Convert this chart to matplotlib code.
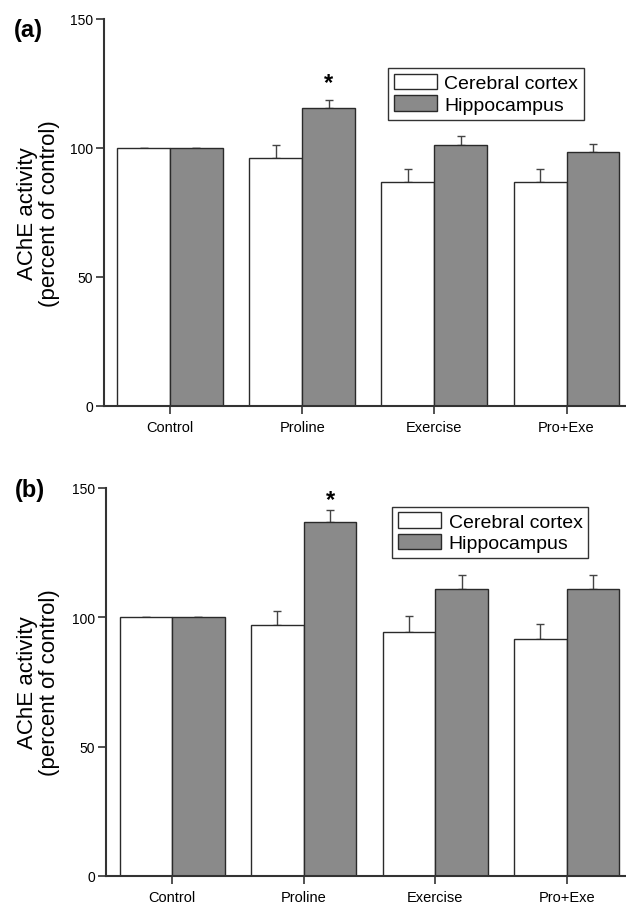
import numpy as np
import matplotlib.pyplot as plt

GROUPS = ["Control", "Proline", "Exercise", "Pro+Exe"]
SERIES = ["Cerebral cortex", "Hippocampus"]

# panel (a)
cortex_a = [100, 96, 87, 87]
cortex_a_err = [0, 5, 5, 5]
hippo_a = [100, 115.5, 101, 98.5]
hippo_a_err = [0, 3, 3.5, 3]

# panel (b)
cortex_b = [100, 97, 94.5, 91.5]
cortex_b_err = [0, 5.5, 6, 6]
hippo_b = [100, 137, 111, 111]
hippo_b_err = [0, 4.5, 5.5, 5.5]

STAR_GROUP = 1  # significant hippocampus bar

COLORS = ["white", "#8a8a8a"]
EDGE = "#2a2a2a"

plt.rcParams["font.family"] = ["Liberation Sans", "DejaVu Sans"]


def draw_panel(ax, cortex, cortex_err, hippo, hippo_err, label, label_xy,
               ylabel_x, legend_anchor, star_off):
    x = np.arange(len(GROUPS))
    width = 0.4
    for i, (vals, errs) in enumerate([(cortex, cortex_err), (hippo, hippo_err)]):
        pos = x + (i - 0.5) * width
        ax.bar(pos, vals, width=width, color=COLORS[i], edgecolor=EDGE,
               linewidth=1.0, label=SERIES[i], zorder=2)
        ax.errorbar(pos, vals, yerr=[np.zeros(len(errs)), errs], fmt="none",
                    ecolor="#444444", elinewidth=1.0, capsize=3, capthick=1.0,
                    zorder=1)

    star_x = STAR_GROUP + 0.5 * width
    ax.text(star_x, hippo[STAR_GROUP] + hippo_err[STAR_GROUP] + star_off, "*",
            ha="center", va="bottom", fontsize=17, fontweight="bold")

    ax.set_xlim(-0.5, 3.45)
    ax.set_ylim(0, 150)
    ax.set_yticks([0, 50, 100, 150])
    ax.set_xticks(x)
    ax.set_xticklabels(GROUPS, fontsize=10.5)
    for t in ax.get_yticklabels():
        t.set_fontsize(10)
    ax.tick_params(axis="both", direction="out", length=6, width=1.2,
                   color="#333333")
    ax.tick_params(axis="y", pad=2)
    ax.tick_params(axis="x", pad=4)
    for side in ["top", "right"]:
        ax.spines[side].set_visible(False)
    for side in ["left", "bottom"]:
        ax.spines[side].set_linewidth(1.5)
        ax.spines[side].set_color("#333333")

    ax.set_ylabel("AChE activity\n(percent of control)", fontsize=16,
                  linespacing=1.05)
    ax.yaxis.set_label_coords(ylabel_x, 0.5)

    leg = ax.legend(loc="upper left", bbox_to_anchor=legend_anchor,
                    fontsize=14, fancybox=False, edgecolor="#333333",
                    framealpha=1, handlelength=2.2, handleheight=0.85,
                    handletextpad=0.4, borderpad=0.3, labelspacing=0.15,
                    borderaxespad=0)
    leg.get_frame().set_linewidth(1.0)

    ax.text(label_xy[0], label_xy[1], label, transform=ax.transAxes,
            fontsize=17, fontweight="bold", ha="center", va="center")


fig = plt.figure(figsize=(6.26, 9.04), dpi=100)
ax_a = fig.add_axes([0.166, 0.5498, 0.834, 0.4281])
ax_b = fig.add_axes([0.170, 0.0299, 0.830, 0.4292])

draw_panel(ax_a, cortex_a, cortex_a_err, hippo_a, hippo_a_err, "(a)",
           (-0.144, 0.972), -0.084, (0.544, 0.873), 2.5)
draw_panel(ax_b, cortex_b, cortex_b_err, hippo_b, hippo_b_err, "(b)",
           (-0.148, 0.995), -0.09, (0.55, 0.952), -0.5)

fig.savefig("out.png", dpi=100)
